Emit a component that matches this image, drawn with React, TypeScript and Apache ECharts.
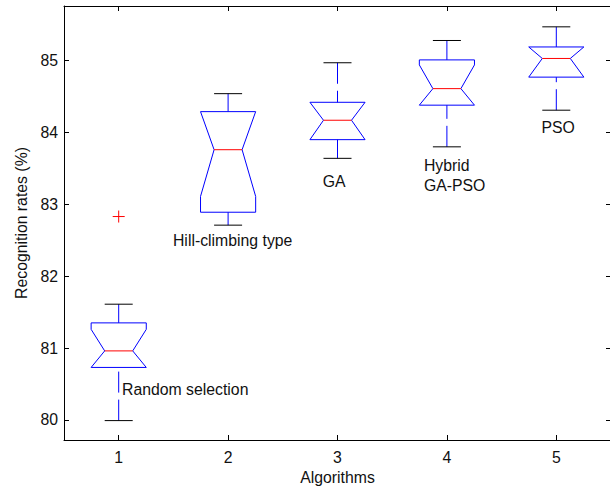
import React, { useEffect, useRef } from "react";
import * as echarts from "echarts";

const categories = ["1", "2", "3", "4", "5"];
const whiskerLow = [79.99, 82.71, 83.64, 83.8, 84.31];
const q1 = [80.73, 82.89, 83.9, 84.38, 84.77];
const median = [80.96, 83.76, 84.17, 84.61, 85.03];
const q3 = [81.35, 84.29, 84.42, 85.01, 85.19];
const whiskerHigh = [81.61, 84.54, 84.97, 85.28, 85.47];
const notchLow = [80.66, 83.11, 83.87, 84.28, 84.75];
const notchHigh = [81.26, 84.41, 84.47, 84.94, 85.31];
const outlierIndex = [0];
const outlierValue = [82.83];
const yTicks = [80, 81, 82, 83, 84, 85];
const annoX = [1.03, 1.496, 2.865, 3.79, 3.79, 4.864];
const annoY = [80.42, 82.49, 83.32, 83.54, 83.26, 84.07];
const annoText = ["Random selection", "Hill-climbing type", "GA", "Hybrid", "GA-PSO", "PSO"];

const FONT = "'Liberation Sans', Arial, Helvetica, sans-serif";
const FS = 15.8;
const TXT = "#111";

export default function App() {
  const ref = useRef<HTMLDivElement>(null);
  useEffect(() => {
    document.body.style.margin = "0";
    const chart = echarts.init(ref.current!, null, { renderer: "svg" });
    const boxData = categories.map((_, i) => [i, whiskerLow[i], q1[i], notchLow[i], median[i], notchHigh[i], q3[i], whiskerHigh[i]]);
    const axisLineStyle = { color: "#000", width: 1 };
    chart.setOption({
      animation: false,
      backgroundColor: "#fff",
      grid: { left: 64, top: 6, right: -1, bottom: 46, containLabel: false, outerBoundsMode: "none" },
      xAxis: [
        {
          type: "category",
          data: categories,
          position: "bottom",
          boundaryGap: true,
          axisLine: { show: true, lineStyle: axisLineStyle },
          axisTick: { show: true, inside: true, alignWithLabel: true, length: 5, interval: 0, lineStyle: axisLineStyle },
          axisLabel: { color: TXT, fontSize: FS, fontFamily: FONT, margin: 9 },
          splitLine: { show: false },
          name: "Algorithms",
          nameLocation: "middle",
          nameGap: 29,
          nameTextStyle: { color: TXT, fontSize: FS, fontFamily: FONT },
        },
        {
          type: "category",
          data: categories,
          position: "top",
          boundaryGap: true,
          axisLine: { show: true, lineStyle: axisLineStyle },
          axisTick: { show: true, inside: true, alignWithLabel: true, length: 5, interval: 0, lineStyle: axisLineStyle },
          axisLabel: { show: false },
          splitLine: { show: false },
        },
      ],
      yAxis: [
        {
          type: "value",
          min: 79.72,
          max: 85.76,
          position: "left",
          axisLine: { show: true, lineStyle: axisLineStyle },
          axisTick: { show: true, inside: true, length: 5, customValues: yTicks, lineStyle: axisLineStyle },
          axisLabel: { customValues: yTicks, color: TXT, fontSize: FS, fontFamily: FONT, margin: 6 },
          splitLine: { show: false },
          name: "Recognition rates (%)",
          nameLocation: "middle",
          nameGap: 35,
          nameTextStyle: { color: TXT, fontSize: FS, fontFamily: FONT },
        },
        {
          type: "value",
          min: 79.72,
          max: 85.76,
          position: "right",
          axisLine: { show: true, lineStyle: axisLineStyle },
          axisTick: { show: true, inside: true, length: 5, customValues: yTicks, lineStyle: axisLineStyle },
          axisLabel: { show: false },
          splitLine: { show: false },
        },
      ],
      series: [
        {
          type: "custom",
          xAxisIndex: 0,
          yAxisIndex: 0,
          data: boxData,
          clip: false,
          renderItem: (params: any, api: any) => {
            const idx = api.value(0);
            const wl = api.value(1), b1 = api.value(2), nl = api.value(3), md = api.value(4), nh = api.value(5), b3 = api.value(6), wh = api.value(7);
            const cx = api.coord([idx, md])[0];
            const band = api.size([1, 0])[0];
            const w = band * 0.252;
            const nw = band * 0.128;
            const cw = band * 0.128;
            const Y = (v: number) => api.coord([idx, v])[1];
            const nLow = Math.max(b1, nl);
            const nHigh = Math.min(b3, nh);
            const pts = [
              [cx - w, Y(b1)],
              [cx - w, Y(nLow)],
              [cx - nw, Y(md)],
              [cx - w, Y(nHigh)],
              [cx - w, Y(b3)],
              [cx + w, Y(b3)],
              [cx + w, Y(nHigh)],
              [cx + nw, Y(md)],
              [cx + w, Y(nLow)],
              [cx + w, Y(b1)],
            ];
            const blue = "#0000ff";
            return {
              type: "group",
              children: [
                { type: "line", shape: { x1: cx, y1: Y(wh), x2: cx, y2: Y(b3) }, style: { stroke: blue, lineWidth: 1, lineDash: [21, 7] } },
                { type: "line", shape: { x1: cx, y1: Y(wl), x2: cx, y2: Y(b1) }, style: { stroke: blue, lineWidth: 1, lineDash: [21, 7] } },
                { type: "line", shape: { x1: cx - cw, y1: Y(wh), x2: cx + cw, y2: Y(wh) }, style: { stroke: "#000", lineWidth: 1 } },
                { type: "line", shape: { x1: cx - cw, y1: Y(wl), x2: cx + cw, y2: Y(wl) }, style: { stroke: "#000", lineWidth: 1 } },
                { type: "polygon", shape: { points: pts }, style: { stroke: blue, fill: "none", lineWidth: 1 } },
                { type: "line", shape: { x1: cx - nw, y1: Y(md), x2: cx + nw, y2: Y(md) }, style: { stroke: "#ff0000", lineWidth: 1 } },
              ],
            };
          },
        },
        {
          type: "custom",
          xAxisIndex: 0,
          yAxisIndex: 0,
          data: outlierIndex.map((c, i) => [c, outlierValue[i]]),
          clip: false,
          renderItem: (params: any, api: any) => {
            const p = api.coord([api.value(0), api.value(1)]);
            const s = 6;
            return {
              type: "group",
              children: [
                { type: "line", shape: { x1: p[0] - s, y1: p[1], x2: p[0] + s, y2: p[1] }, style: { stroke: "#ff0000", lineWidth: 1 } },
                { type: "line", shape: { x1: p[0], y1: p[1] - s, x2: p[0], y2: p[1] + s }, style: { stroke: "#ff0000", lineWidth: 1 } },
              ],
            };
          },
        },
        {
          type: "custom",
          xAxisIndex: 0,
          yAxisIndex: 0,
          data: annoX.map((x, i) => [x, annoY[i]]),
          clip: false,
          renderItem: (params: any, api: any) => {
            const xv = api.value(0);
            const yv = api.value(1);
            const base = api.coord([0, yv]);
            const band = api.size([1, 0])[0];
            return {
              type: "text",
              x: base[0] + (xv - 1) * band,
              y: base[1],
              style: {
                text: annoText[params.dataIndex],
                fill: TXT,
                fontSize: FS,
                fontFamily: FONT,
                align: "left",
                verticalAlign: "middle",
              },
            };
          },
        },
      ],
    });
    return () => chart.dispose();
  }, []);
  return <div ref={ref} style={{ width: 610, height: 486 }} />;
}
